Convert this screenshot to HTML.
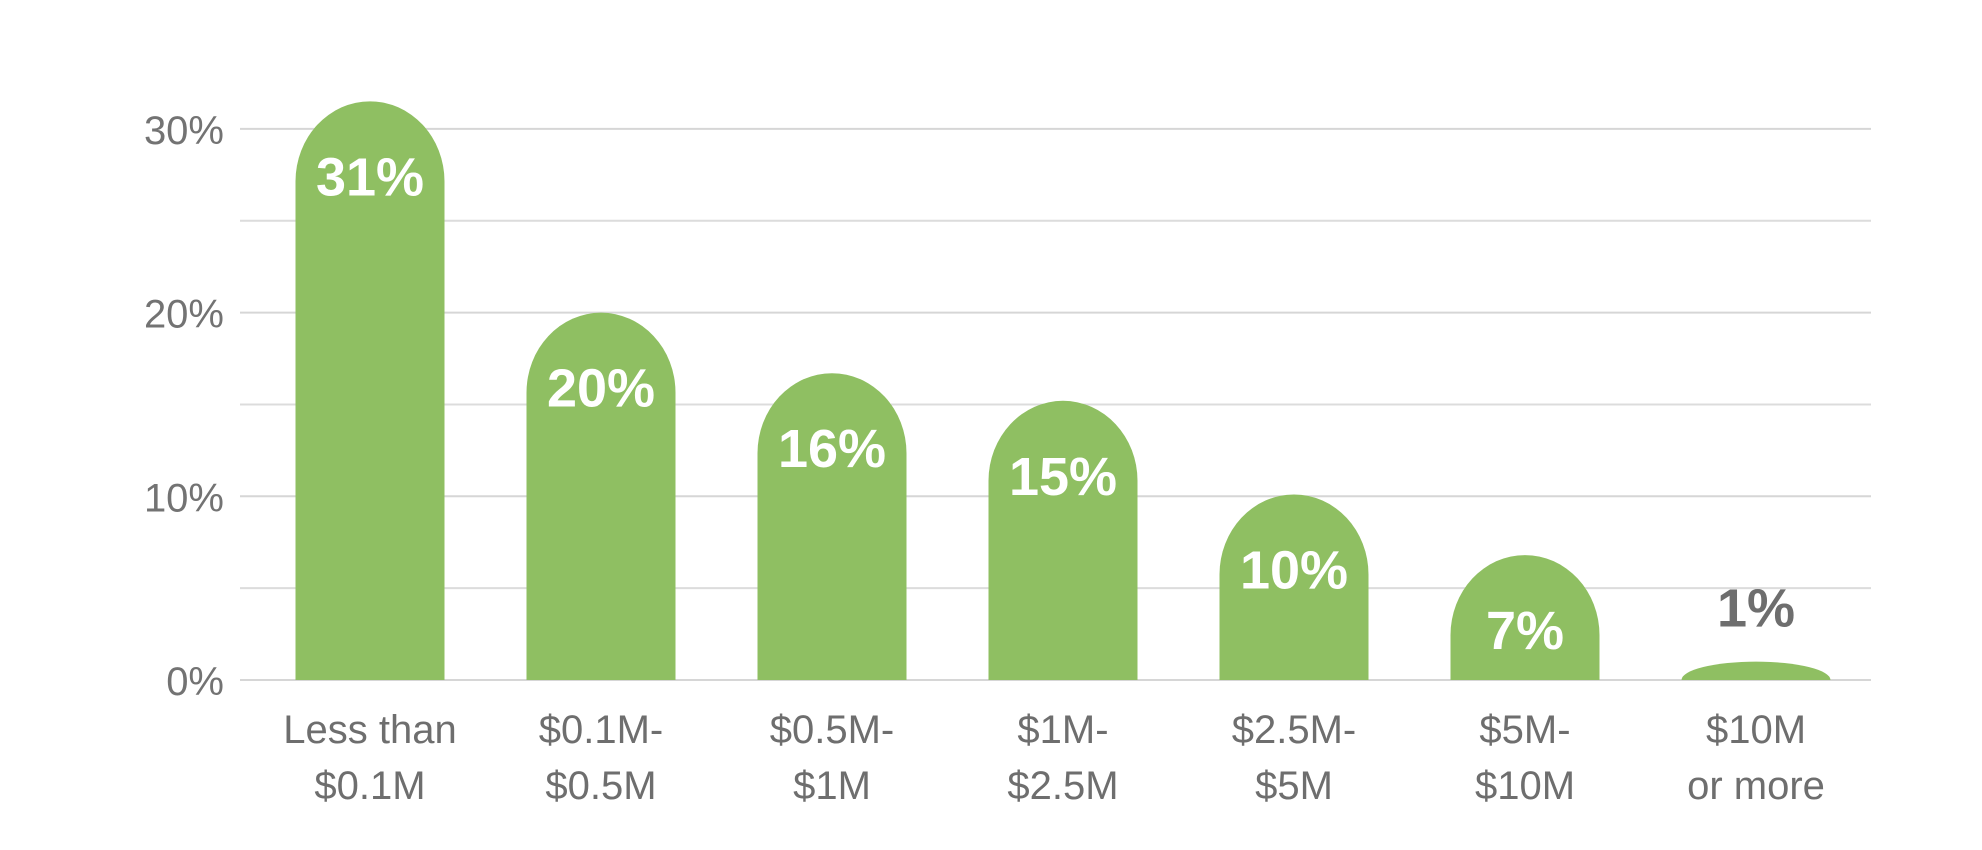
<!DOCTYPE html>
<html><head><meta charset="utf-8"><style>
html,body{margin:0;padding:0;background:#fff;}
svg{display:block;font-family:"Liberation Sans",sans-serif;}
</style></head><body>
<svg id="chart" width="1982" height="850" viewBox="0 0 1982 850">
<g id="grid"></g><g id="bars"></g><g id="labels"></g>
</svg>
<script>
const categories = [["Less than","$0.1M"],["$0.1M-","$0.5M"],["$0.5M-","$1M"],["$1M-","$2.5M"],["$2.5M-","$5M"],["$5M-","$10M"],["$10M","or more"]];
const values = [31.5, 20, 16.7, 15.2, 10.1, 6.8, 1];
const valueLabels = ["31%","20%","16%","15%","10%","7%","1%"];
const tickValues = [0, 10, 20, 30];
const tickLabels = ["0%","10%","20%","30%"];
const minorTicks = [5, 15, 25];
const NS="http://www.w3.org/2000/svg";
const y0=680, pxPer=18.37, x0=370, step=231, bw=149, gx1=240, gx2=1871;
const y=v=>y0-v*pxPer;
const x=i=>x0+i*step;
function mk(t,attrs,parent){const e=document.createElementNS(NS,t);for(const k in attrs)e.setAttribute(k,attrs[k]);parent.appendChild(e);return e;}
const grid=document.getElementById('grid'),bars=document.getElementById('bars'),labels=document.getElementById('labels');
minorTicks.forEach(v=>{const l=mk('line',{x1:gx1,x2:gx2,y1:y(v),y2:y(v),stroke:'#dcdcdc','stroke-width':2},grid);

});
tickValues.forEach((v,i)=>{const l=mk('line',{x1:gx1,x2:gx2,y1:y(v),y2:y(v),stroke:'#d6d6d6','stroke-width':2},grid);


const t=mk('text',{x:224,y:y(v)+15,'text-anchor':'end','font-size':40,fill:'#737373'},labels);t.textContent=tickLabels[i];

});
values.forEach((v,i)=>{const cx=x(i),l=cx-bw/2,r=cx+bw/2,top=y(v),h=y0-top;const rad=Math.min(bw/2,h);const ry=Math.min(80,h);
const d=`M${l},${y0} L${l},${top+ry} A${bw/2},${ry} 0 0 1 ${r},${top+ry} L${r},${y0} Z`;
const p=mk('path',{d:d,fill:'#8fbf62'},bars);


const inside=h>60;
const t=mk('text',{x:cx,y:inside?top+94:top-35,'text-anchor':'middle','font-size':54,'font-weight':'bold',fill:inside?'#ffffff':'#6e6e6e'},labels);t.textContent=valueLabels[i];


categories[i].forEach((s,j)=>{const c=mk('text',{x:cx,y:743+j*56,'text-anchor':'middle','font-size':40,fill:'#6e6e6e'},labels);c.textContent=s;

});});
</script>
</body></html>
